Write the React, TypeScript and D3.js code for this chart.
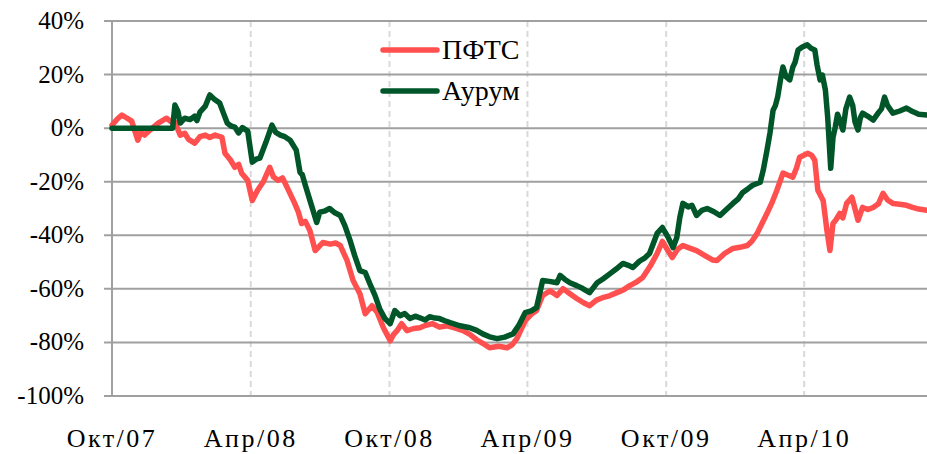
import React from "react";
import * as d3 from "d3";

const width = 927;
const height = 454;
const margin = { top: 21, right: 0, bottom: 58, left: 112 };

const parse = d3.timeParse("%Y-%m-%d");

// x axis: half-year marks
const xTickDates = ["2007-10-01", "2008-04-01", "2008-10-01", "2009-04-01", "2009-10-01", "2010-04-01"];
const xTickLabels = ["Окт/07", "Апр/08", "Окт/08", "Апр/09", "Окт/09", "Апр/10"];
const yTicks = [-100, -80, -60, -40, -20, 0, 20, 40];

const seriesNames = ["ПФТС", "Аурум"];
const seriesColors = ["#ff4f4f", "#005628"];

// cumulative change, %
const pfts: [string, number][] = [
  ["2007-10-01", 1.1], ["2007-10-08", 3.4], ["2007-10-14", 4.9], ["2007-10-21", 3.7], ["2007-10-27", 2.6],
  ["2007-11-04", -4.5], ["2007-11-08", -1.5], ["2007-11-13", -2.6], ["2007-11-20", -0.7], ["2007-12-01", 1.9],
  ["2007-12-12", 3.7], ["2007-12-18", 2.4], ["2007-12-23", 2.2], ["2007-12-30", -2.6], ["2008-01-05", -1.9],
  ["2008-01-10", -4.2], ["2008-01-18", -5.6], ["2008-01-25", -3.2], ["2008-02-01", -2.6], ["2008-02-07", -3.5],
  ["2008-02-14", -2.6], ["2008-02-23", -3.4], ["2008-02-27", -9.4], ["2008-03-05", -11.8], ["2008-03-11", -14.6],
  ["2008-03-16", -13.5], ["2008-03-20", -16.8], ["2008-03-28", -19.5], ["2008-04-03", -27], ["2008-04-10", -23.2],
  ["2008-04-18", -19.8], ["2008-04-26", -14.6], ["2008-05-01", -18.2], ["2008-05-07", -19.5], ["2008-05-13", -18.6],
  ["2008-05-19", -22.1], ["2008-05-29", -28.1], ["2008-06-03", -31.5], ["2008-06-07", -35.6], ["2008-06-12", -34.8],
  ["2008-06-18", -38.2], ["2008-06-25", -45.7], ["2008-07-05", -42.7], ["2008-07-15", -43.3], ["2008-07-22", -42.9],
  ["2008-07-28", -43.8], ["2008-08-06", -49.4], ["2008-08-14", -56.9], ["2008-08-23", -61.8], ["2008-08-30", -69.3],
  ["2008-09-08", -66.3], ["2008-09-15", -68.9], ["2008-09-23", -74.5], ["2008-10-02", -79.4], ["2008-10-06", -77.2],
  ["2008-10-11", -75.6], ["2008-10-17", -73], ["2008-10-24", -75.6], ["2008-11-02", -74.8], ["2008-11-10", -74.5],
  ["2008-11-18", -73.6], ["2008-11-27", -73], ["2008-12-06", -74.3], ["2008-12-16", -73.8], ["2008-12-26", -74.6],
  ["2009-01-06", -75.6], ["2009-01-15", -77], ["2009-01-24", -79], ["2009-02-02", -80.5], ["2009-02-10", -82],
  ["2009-02-22", -81.4], ["2009-03-05", -82], ["2009-03-12", -80.8], ["2009-03-18", -78.6], ["2009-03-29", -71.9],
  ["2009-04-06", -69.5], ["2009-04-13", -68.1], ["2009-04-21", -62.5], ["2009-05-01", -60.7], ["2009-05-10", -62.5],
  ["2009-05-18", -59.9], ["2009-05-27", -61.8], ["2009-06-05", -63.6], ["2009-06-14", -65.2], ["2009-06-22", -66.3],
  ["2009-07-01", -64.2], ["2009-07-09", -63.3], ["2009-07-18", -62.6], ["2009-07-28", -61.4], ["2009-08-06", -60.3],
  ["2009-08-14", -58.8], ["2009-08-22", -57.6], ["2009-08-31", -55.8], ["2009-09-10", -51.5], ["2009-09-19", -46.8],
  ["2009-09-26", -42.3], ["2009-10-03", -45.6], ["2009-10-09", -48.3], ["2009-10-16", -45.2], ["2009-10-23", -43.8],
  ["2009-11-01", -44.8], ["2009-11-10", -45.7], ["2009-11-20", -47.4], ["2009-12-01", -49.2], ["2009-12-07", -49.4],
  ["2009-12-17", -46.8], ["2009-12-28", -44.9], ["2010-01-06", -44.5], ["2010-01-16", -43.8], ["2010-01-22", -42.2],
  ["2010-01-29", -39.3], ["2010-02-05", -35.2], ["2010-02-11", -31.8], ["2010-02-18", -27.5], ["2010-02-24", -23.2],
  ["2010-03-04", -16.8], ["2010-03-10", -17.5], ["2010-03-17", -18.3], ["2010-03-22", -14.8], ["2010-03-26", -10.9],
  ["2010-04-06", -9.4], ["2010-04-11", -10.2], ["2010-04-15", -12], ["2010-04-19", -23.2], ["2010-04-26", -27],
  ["2010-05-01", -38.2], ["2010-05-05", -45.7], ["2010-05-09", -35.6], ["2010-05-13", -34.2], ["2010-05-18", -31.8],
  ["2010-05-22", -33.5], ["2010-05-27", -28.1], ["2010-06-03", -25.8], ["2010-06-11", -34.4], ["2010-06-17", -29.6],
  ["2010-06-24", -30.4], ["2010-07-01", -29.6], ["2010-07-08", -28.2], ["2010-07-14", -24.3], ["2010-07-20", -26.8],
  ["2010-07-27", -28.1], ["2010-08-05", -28.4], ["2010-08-14", -28.8], ["2010-08-22", -29.6], ["2010-08-30", -30.2],
  ["2010-09-10", -30.7],
];

const aurum: [string, number][] = [
  ["2007-10-01", 0], ["2007-12-20", 0], ["2007-12-23", 8.6], ["2007-12-27", 6.2], ["2007-12-30", 1.9],
  ["2008-01-05", 3.7], ["2008-01-12", 3.2], ["2008-01-18", 4.5], ["2008-01-21", 2.8], ["2008-01-25", 6],
  ["2008-02-01", 8.2], ["2008-02-07", 12.4], ["2008-02-13", 10.8], ["2008-02-20", 9.4], ["2008-02-25", 5.6],
  ["2008-03-01", 1.9], ["2008-03-06", 0.8], ["2008-03-11", 0.4], ["2008-03-16", -1.8], ["2008-03-21", 0.2],
  ["2008-03-28", -1.1], ["2008-04-03", -12.7], ["2008-04-08", -11.6], ["2008-04-13", -11.2], ["2008-04-21", -5.3],
  ["2008-04-29", 1.1], ["2008-05-04", -1.6], ["2008-05-10", -2.6], ["2008-05-16", -3.2], ["2008-05-23", -4.5],
  ["2008-05-31", -8.2], ["2008-06-05", -16.5], ["2008-06-08", -17.4], ["2008-06-12", -21.3], ["2008-06-19", -27.8],
  ["2008-06-27", -35.2], ["2008-07-01", -31.4], ["2008-07-07", -31], ["2008-07-14", -30], ["2008-07-21", -31.6],
  ["2008-07-28", -32.6], ["2008-08-03", -36.3], ["2008-08-10", -41.9], ["2008-08-16", -47.5], ["2008-08-23", -53.2],
  ["2008-08-30", -53.9], ["2008-09-05", -58], ["2008-09-12", -62.5], ["2008-09-18", -67.4], ["2008-09-25", -71.1],
  ["2008-10-02", -73], ["2008-10-08", -68.1], ["2008-10-15", -70], ["2008-10-21", -69.2], ["2008-10-28", -71.1],
  ["2008-11-04", -70.2], ["2008-11-10", -70.8], ["2008-11-17", -71.6], ["2008-11-23", -70.4], ["2008-11-30", -70.9],
  ["2008-12-06", -71.1], ["2008-12-13", -71.9], ["2008-12-20", -72.6], ["2009-01-02", -73.8], ["2009-01-15", -74.5],
  ["2009-01-24", -75.5], ["2009-02-01", -76.8], ["2009-02-10", -77.9], ["2009-02-20", -78.6], ["2009-03-02", -78],
  ["2009-03-13", -76.8], ["2009-03-21", -73.4], ["2009-03-29", -68.9], ["2009-04-06", -68.2], ["2009-04-13", -67],
  ["2009-04-21", -56.9], ["2009-04-30", -57.2], ["2009-05-10", -57.7], ["2009-05-14", -55], ["2009-05-20", -56.4],
  ["2009-05-27", -57.7], ["2009-06-05", -58.8], ["2009-06-13", -59.9], ["2009-06-22", -61.4], ["2009-07-02", -57.7],
  ["2009-07-10", -56.2], ["2009-07-19", -54.3], ["2009-07-27", -52.6], ["2009-08-05", -50.5], ["2009-08-12", -51.2],
  ["2009-08-18", -52], ["2009-08-27", -49.6], ["2009-09-03", -48.4], ["2009-09-09", -46.8], ["2009-09-19", -39.3],
  ["2009-09-26", -37.1], ["2009-10-03", -40.5], ["2009-10-10", -44.6], ["2009-10-15", -40.8], ["2009-10-19", -33.3],
  ["2009-10-23", -28.1], ["2009-10-30", -29.4], ["2009-11-04", -28.8], ["2009-11-10", -32.6], ["2009-11-17", -30.7],
  ["2009-11-24", -30], ["2009-12-03", -31.2], ["2009-12-11", -32.6], ["2009-12-19", -30.5], ["2009-12-28", -28.1],
  ["2010-01-04", -26.4], ["2010-01-10", -24], ["2010-01-17", -22.6], ["2010-01-23", -21.3], ["2010-02-02", -20.2],
  ["2010-02-06", -15.7], ["2010-02-11", -8.2], ["2010-02-15", -1.6], ["2010-02-19", 6.7], ["2010-02-22", 8.4],
  ["2010-02-25", 11.6], ["2010-03-01", 18.5], ["2010-03-04", 22.8], ["2010-03-08", 19.2], ["2010-03-13", 18],
  ["2010-03-17", 22.8], ["2010-03-20", 24.6], ["2010-03-24", 29.2], ["2010-03-29", 30.2], ["2010-04-05", 31.1],
  ["2010-04-10", 29.8], ["2010-04-15", 29.2], ["2010-04-18", 23.6], ["2010-04-22", 18], ["2010-04-25", 19.8],
  ["2010-04-29", 14.2], ["2010-05-02", 4.1], ["2010-05-06", -15], ["2010-05-09", -3.5], ["2010-05-12", 0.4],
  ["2010-05-15", 5.2], ["2010-05-18", 3], ["2010-05-22", -0.7], ["2010-05-26", 7.2], ["2010-05-31", 11.6],
  ["2010-06-04", 8.5], ["2010-06-07", 2.4], ["2010-06-11", -0.7], ["2010-06-14", 3.8], ["2010-06-17", 5.6],
  ["2010-06-24", 4.4], ["2010-07-01", 3], ["2010-07-08", 5.8], ["2010-07-12", 7.2], ["2010-07-16", 11.6],
  ["2010-07-20", 8.4], ["2010-07-27", 5.6], ["2010-08-05", 6.4], ["2010-08-14", 7.5], ["2010-08-22", 6.2],
  ["2010-08-30", 5.2], ["2010-09-10", 4.9],
];

const font = "'Liberation Serif', serif";

export default function App() {
  const x = d3
    .scaleTime()
    .domain([parse("2007-10-01") as Date, parse("2010-09-10") as Date])
    .range([margin.left, width - margin.right]);
  const y = d3
    .scaleLinear()
    .domain([-100, 40])
    .range([height - margin.bottom, margin.top]);

  const lineFn = d3
    .line<[string, number]>()
    .x(d => x(parse(d[0]) as Date))
    .y(d => y(d[1]));

  const series = [pfts, aurum];

  return (
    <svg
      width={width}
      height={height}
      style={{ position: "absolute", left: 0, top: 0, background: "#fff" }}
    >
      {/* vertical dashed grid */}
      {xTickDates.slice(1).map(d => (
        <line
          key={d}
          x1={x(parse(d) as Date)}
          x2={x(parse(d) as Date)}
          y1={y(40)}
          y2={y(-100)}
          stroke="#d9d9d9"
          strokeWidth={2}
          strokeDasharray="6,4"
        />
      ))}
      {/* horizontal grid with tick stubs */}
      {yTicks.map(t => (
        <g key={t}>
          <line
            x1={margin.left - 8}
            x2={width}
            y1={y(t)}
            y2={y(t)}
            stroke="#a0a0a0"
            strokeWidth={2}
          />
          <text
            x={margin.left - 28}
            y={y(t) + 8}
            textAnchor="end"
            style={{ fontFamily: font, fontSize: 25 }}
            fill="#000"
          >
            {t + "%"}
          </text>
        </g>
      ))}
      <line
        x1={margin.left}
        x2={margin.left}
        y1={y(40)}
        y2={y(-100)}
        stroke="#a0a0a0"
        strokeWidth={2}
      />
      {xTickDates.map((d, i) => (
        <text
          key={d}
          x={x(parse(d) as Date)}
          y={447}
          textAnchor="middle"
          style={{ fontFamily: font, fontSize: 26, letterSpacing: 2.5 }}
          fill="#000"
        >
          {xTickLabels[i]}
        </text>
      ))}
      {series.map((s, i) => (
        <path
          key={seriesNames[i]}
          d={lineFn(s) || ""}
          fill="none"
          stroke={seriesColors[i]}
          strokeWidth={5.5}
          strokeLinejoin="round"
          strokeLinecap="round"
        />
      ))}
      {/* legend */}
      {seriesNames.map((name, i) => (
        <g key={name} transform={`translate(383,${50 + i * 41})`}>
          <line x1={0} x2={54} y1={0} y2={0} stroke={seriesColors[i]} strokeWidth={5.5} strokeLinecap="round" />
          <text x={59} y={9} style={{ fontFamily: font, fontSize: 28 }} fill="#000">
            {name}
          </text>
        </g>
      ))}
    </svg>
  );
}
